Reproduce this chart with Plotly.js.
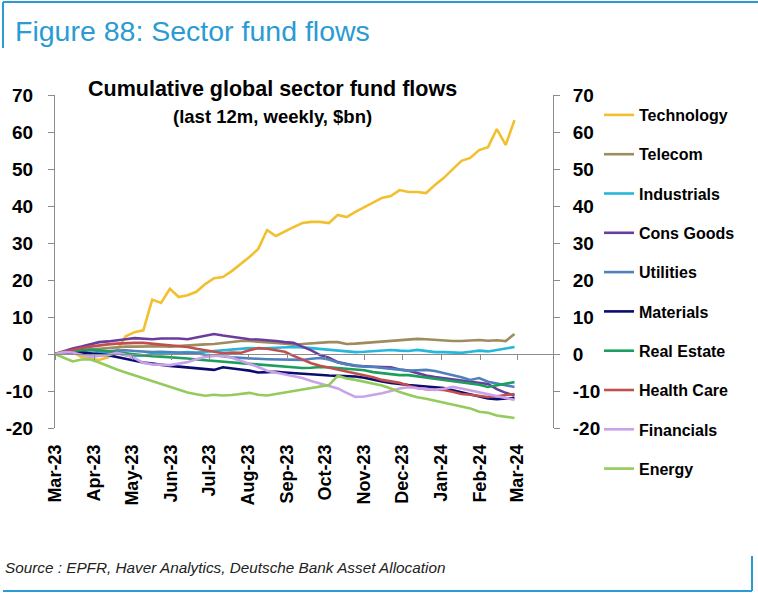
<!DOCTYPE html>
<html><head><meta charset="utf-8">
<script src="https://cdn.plot.ly/plotly-3.0.1.min.js"></script>
<style>html,body{margin:0;padding:0;background:#fff}#chart{width:758px;height:598px}</style>
</head><body><div id="chart"></div>
<script>
// ---- data ----
const startWeek = '2023-03-01';
const nWeeks = 53;
const monthTicks = ['2023-03-01','2023-04-01','2023-05-01','2023-06-01','2023-07-01','2023-08-01','2023-09-01','2023-10-01','2023-11-01','2023-12-01','2024-01-01','2024-02-01','2024-03-01'];
const monthLabels = ['Mar-23','Apr-23','May-23','Jun-23','Jul-23','Aug-23','Sep-23','Oct-23','Nov-23','Dec-23','Jan-24','Feb-24','Mar-24'];
const yTickVals = [-20,-10,0,10,20,30,40,50,60,70];
const yTickLabels = ['-20','-10','0','10','20','30','40','50','60','70'];
const sectorNames = ['Technology','Telecom','Industrials','Cons Goods','Utilities','Materials','Real Estate','Health Care','Financials','Energy'];

const technology = [0,0.8,0.5,-0.8,-1.3,-1.6,-0.9,1.0,4.8,5.9,6.4,14.7,13.8,17.6,15.4,15.9,16.8,18.9,20.5,20.8,22.4,24.3,26.2,28.4,33.5,31.9,33.2,34.3,35.4,35.7,35.7,35.4,37.6,37.0,38.4,39.7,41.1,42.2,42.7,44.3,43.8,43.8,43.5,45.7,47.6,50.0,52.2,53.0,55.1,55.9,60.8,56.5,63.2];
const telecom = [0,0.5,0.8,1.0,1.2,1.5,1.6,1.8,2.0,2.0,2.1,2.0,2.1,2.0,2.2,2.3,2.4,2.6,2.7,3.0,3.3,3.5,3.5,3.4,3.2,3.0,2.8,2.5,2.7,2.9,3.0,3.2,3.2,2.7,2.8,3.0,3.1,3.4,3.6,3.9,4.0,4.1,4.0,3.8,3.6,3.5,3.5,3.7,3.8,3.6,3.7,3.5,5.4];
const industrials = [0,0.3,0.5,0.2,-0.2,0.3,0.5,0.2,-0.3,-0.5,-0.4,0,0.2,0.1,0.3,0.5,0.4,0.6,0.8,1.1,1.4,1.6,1.6,1.5,1.6,1.8,1.9,1.9,1.8,1.6,1.3,1.1,0.9,0.7,0.5,0.6,0.8,1.0,1.1,0.9,0.8,1.1,0.8,0.5,0.5,0.3,0.3,0.6,0.9,0.7,1.2,1.5,1.9];
const consGoods = [0,0.8,1.5,2.0,2.5,3.2,3.4,3.8,4.0,4.3,4.2,4.0,4.2,4.3,4.2,4.0,4.4,5.0,5.4,5.0,4.6,4.3,4.0,3.9,3.8,3.5,3.2,3.0,2.0,1.0,-0.3,-1.0,-2.2,-2.8,-3.2,-3.3,-3.5,-3.5,-3.6,-4.2,-4.5,-5.2,-5.8,-6.2,-6.5,-6.8,-7.0,-7.4,-7.8,-8.1,-9.5,-10.5,-11.2];
const utilities = [0,0.3,0.6,0.8,1.0,0.8,0.7,0.9,1.0,0.8,0.6,0.5,0.6,0.5,0.6,0.4,0.2,-0.2,-0.3,-0.6,-0.9,-1.1,-1.2,-1.3,-1.4,-1.4,-1.5,-1.5,-1.6,-1.3,-1.1,-1.5,-2.3,-2.8,-3.2,-3.4,-3.5,-3.8,-4.1,-4.3,-4.5,-4.4,-4.3,-4.6,-5.1,-5.6,-6.3,-7.0,-6.5,-7.5,-8.0,-8.4,-8.9];
const materials = [0,0.3,0.5,0.4,0.2,0,-0.3,-0.8,-1.3,-1.9,-2.3,-2.6,-3.0,-3.2,-3.4,-3.6,-4.0,-4.2,-4.3,-3.6,-3.8,-4.2,-4.5,-5.0,-4.9,-4.8,-5.0,-5.2,-5.3,-5.5,-5.6,-5.8,-5.9,-5.9,-6.1,-6.4,-7.0,-7.4,-7.8,-8.2,-8.4,-8.6,-8.8,-8.9,-9.2,-9.8,-10.4,-10.8,-11.5,-12.0,-12.2,-12.0,-11.9];
const realEstate = [0,0.5,0.8,1.0,1.2,1.0,0.8,0.5,0.2,-0.1,-0.4,-0.6,-0.7,-0.8,-1.0,-1.2,-1.5,-1.7,-1.9,-2.1,-2.2,-2.4,-2.6,-2.8,-3.0,-3.2,-3.4,-3.6,-3.8,-3.7,-3.5,-3.6,-3.8,-3.9,-4.0,-4.4,-4.9,-5.2,-5.5,-5.7,-5.7,-6.0,-6.3,-6.7,-7.0,-7.3,-7.6,-7.9,-8.3,-8.9,-8.4,-7.9,-7.6];
const healthCare = [0,0.6,1.1,1.6,2.0,2.4,2.6,2.8,3.0,3.0,3.0,2.8,2.6,2.4,2.2,1.9,1.4,1.0,0.5,0.2,0.4,0.3,1.0,1.6,1.4,1.0,0.6,-0.5,-1.5,-2.5,-3.2,-3.7,-4.3,-4.9,-5.3,-5.7,-6.3,-7.0,-7.4,-7.8,-8.6,-9.2,-9.5,-9.7,-9.7,-10.2,-10.8,-11.0,-11.3,-11.6,-11.4,-11.0,-10.8];
const financials = [0,0.5,0.4,-0.3,-0.8,-0.5,-0.3,0.3,-0.2,-1.1,-2.4,-2.8,-3.0,-3.0,-2.6,-2.2,-1.4,-0.8,-0.5,-0.4,-1.0,-1.8,-2.8,-3.5,-4.5,-5.0,-5.6,-6.2,-6.5,-7.3,-8.0,-8.6,-9.3,-10.5,-11.6,-11.5,-11.1,-10.6,-10.0,-9.3,-9.0,-9.2,-9.6,-9.7,-9.4,-8.9,-9.3,-9.8,-10.2,-10.7,-11.2,-11.8,-12.4];
const energy = [0,-1,-2,-1.5,-1.5,-2.3,-3.3,-4.2,-5,-5.8,-6.6,-7.4,-8.1,-9,-9.8,-10.4,-10.9,-11.3,-11,-11.2,-11.1,-10.8,-10.5,-11,-11.2,-10.8,-10.4,-10,-9.5,-9,-8.7,-8.4,-5.9,-6.6,-7,-7.5,-7.8,-8.5,-9.3,-10.3,-11,-11.7,-12.1,-12.6,-13.2,-13.8,-14.3,-14.7,-15.6,-15.9,-16.6,-17,-17.3];

const seriesValues = [technology,telecom,industrials,consGoods,utilities,materials,realEstate,healthCare,financials,energy];
const colors = ['#F2BF2E','#9C8C5E','#27B6DC','#6A3D9C','#4F81BD','#0C0C6E','#1E9E5E','#C0504D','#C9A2EA','#93CB5C'];

// weekly dates
const weeks = [];
(function(){ const d0 = new Date(startWeek + 'T00:00:00Z');
  for (let i = 0; i < nWeeks; i++) { const d = new Date(d0.getTime() + i*7*86400000); weeks.push(d.toISOString().slice(0,10)); } })();

// ---- pixel helpers (plot area: x 55..553, y 95..428) ----
const PL = 55, PR = 553, PT = 95, PB = 428;
const px = x => (x - PL) / (PR - PL);
const py = y => (PB - y) / (PB - PT);
const xRange = ['2023-03-01', '2024-03-29 12:00'];
const FONT = 'Liberation Sans, Arial, sans-serif';

const traces = sectorNames.map((n, k) => ({
  type: 'scatter', mode: 'lines', name: n, x: weeks, y: seriesValues[k],
  line: {color: colors[k], width: 2.6}, legendgroup: 'g' + k, hoverinfo: 'skip'
}));
traces.push({type:'scatter', mode:'lines', x:[weeks[0]], y:[null], xaxis:'x2', yaxis:'y', showlegend:false, hoverinfo:'skip'});
traces.push({type:'scatter', mode:'lines', x:[weeks[0]], y:[null], xaxis:'x', yaxis:'y2', showlegend:false, hoverinfo:'skip'});

const tickFont = {family: FONT, size: 19, color: '#000', weight: 'bold'};
const blue = '#2A9BD3';
const axisGray = '#8c8c8c';
const layout = {
  width: 758, height: 598,
  margin: {l: PL, r: 758 - PR, t: PT, b: 598 - PB, pad: 0},
  paper_bgcolor: '#fff', plot_bgcolor: '#fff',
  showlegend: true,
  xaxis: {type: 'date', range: xRange, tickvals: monthTicks, ticktext: monthLabels, tickangle: -90,
    showgrid: false, zeroline: false, showline: false, ticks: '', ticklabelstandoff: 12,
    tickfont: {family: FONT, size: 18, color: '#000', weight: 'bold'}},
  xaxis2: {type: 'date', overlaying: 'x', anchor: 'free', position: 20/90, range: xRange, tickvals: monthTicks,
    showticklabels: false, ticks: 'outside', ticklen: 5, tickcolor: axisGray, showline: true, linecolor: axisGray, linewidth: 1,
    showgrid: false, zeroline: false},
  yaxis: {range: [-20, 70], tickvals: yTickVals, ticktext: yTickLabels, showgrid: false, zeroline: false, showline: true, linecolor: axisGray,
    ticks: 'outside', ticklen: 6, tickcolor: axisGray, ticklabelstandoff: 11, tickfont: tickFont},
  yaxis2: {range: [-20, 70], tickvals: yTickVals, ticktext: yTickLabels, overlaying: 'y', side: 'right', anchor: 'x', showgrid: false, zeroline: false,
    showline: true, linecolor: axisGray, ticks: 'outside', ticklen: 6, tickcolor: axisGray, ticklabelstandoff: 9, tickfont: tickFont},
  legend: {x: px(599), y: py(98), xanchor: 'left', yanchor: 'top', bgcolor: 'rgba(0,0,0,0)', tracegroupgap: 15.5,
    maxheight: 560, font: {family: FONT, size: 16, color: '#000', weight: 'bold'}, itemwidth: 30},
  annotations: [
    {xref:'paper', yref:'paper', x: px(13), y: py(31), xanchor:'left', yanchor:'middle', showarrow:false,
     text:'Figure 88: Sector fund flows', font:{family: FONT, size: 28.5, color: blue}},
    {xref:'paper', yref:'paper', x: px(272), y: py(89), xanchor:'center', yanchor:'middle', showarrow:false,
     text:'Cumulative global sector fund flows', font:{family: FONT, size: 21.5, color:'#000', weight:'bold'}},
    {xref:'paper', yref:'paper', x: px(272), y: py(116), xanchor:'center', yanchor:'middle', showarrow:false,
     text:'(last 12m, weekly, $bn)', font:{family: FONT, size: 18.5, color:'#000', weight:'bold'}},
    {xref:'paper', yref:'paper', x: px(3), y: py(567), xanchor:'left', yanchor:'middle', showarrow:false,
     text:'Source : EPFR, Haver Analytics, Deutsche Bank Asset Allocation', font:{family: FONT, size: 15.3, color:'#222', style:'italic'}}
  ],
  shapes: [
    {type:'line', xref:'paper', yref:'paper', x0: px(3), x1: px(758), y0: py(2), y1: py(2), line:{color: blue, width: 2}},
    {type:'line', xref:'paper', yref:'paper', x0: px(3), x1: px(3), y0: py(2), y1: py(48), line:{color: blue, width: 2}},
    {type:'line', xref:'paper', yref:'paper', x0: px(3), x1: px(752), y0: py(591), y1: py(591), line:{color: blue, width: 2}},
    {type:'line', xref:'paper', yref:'paper', x0: px(752), x1: px(752), y0: py(556), y1: py(591), line:{color: blue, width: 2}}
  ]
};
Plotly.newPlot('chart', traces, layout, {displayModeBar: false, staticPlot: true});
</script></body></html>
